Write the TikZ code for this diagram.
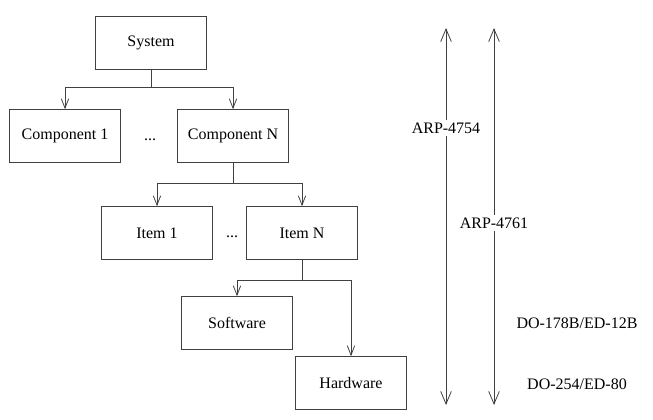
\documentclass[tikz,border=0pt]{standalone}
\usepackage{fontspec}
\setmainfont{Liberation Serif}
\usetikzlibrary{arrows.meta}
\begin{document}
\begin{tikzpicture}[x=0.75pt,y=-0.75pt,
  box/.style={draw=black!75,line width=0.75pt,minimum width=83pt,minimum height=39.5pt,inner sep=0pt,font=\fontsize{12}{14}\selectfont},
  conn/.style={draw=black!75,line width=0.75pt},
  barb/.tip={Straight Barb[length=7pt,width=5.5pt,line width=0.6pt]},
  bigbarb/.tip={Straight Barb[length=9.5pt,width=8pt,line width=0.6pt]},
  tip/.style={-barb},
  dtip/.style={bigbarb-bigbarb},
  lbl/.style={fill=white,inner sep=2pt,font=\fontsize{12}{14}\selectfont},
  dots/.style={font=\fontsize{12}{14}\selectfont}]
\useasboundingbox (0,0) rectangle (653,419);
\node[box] (sys) at (151,43) {System};
\node[box] (c1) at (65,136) {Component 1};
\node[box] (cn) at (233,136) {Component N};
\node[dots] (d1) at (150,140) {...};
\node[box] (i1) at (157,233) {Item 1};
\node[box] (in) at (302,233) {Item N};
\node[dots] (d2) at (232,237) {...};
\node[box] (sw) at (237,323) {Software};
\node[box] (hw) at (351,383) {Hardware};
\coordinate (j1) at (151,87);
\coordinate (j2) at (233,183);
\coordinate (j3) at (302,280);
\draw[conn] (sys.south) -- (j1);
\draw[conn,tip] (j1) -| (c1.north);
\draw[conn,tip] (j1) -| (cn.north);
\draw[conn] (cn.south) -- (j2);
\draw[conn,tip] (j2) -| (i1.north);
\draw[conn,tip] (j2) -| (in.north);
\draw[conn] (in.south) -- (j3);
\draw[conn,tip] (j3) -| (sw.north);
\draw[conn,tip] (j3) -| (hw.north);
\coordinate (a1t) at (446,28);
\coordinate (a1b) at (446,405);
\coordinate (a2t) at (494,28);
\coordinate (a2b) at (494,405);
\draw[conn,dtip] (a1t) -- (a1b);
\draw[conn,dtip] (a2t) -- (a2b);
\node[lbl] (l1) at (446,128) {ARP-4754};
\node[lbl] (l2) at (494,223) {ARP-4761};
\node[lbl] (l3) at (577,323) {DO-178B/ED-12B};
\node[lbl] (l4) at (577,384) {DO-254/ED-80};
\end{tikzpicture}
\end{document}
